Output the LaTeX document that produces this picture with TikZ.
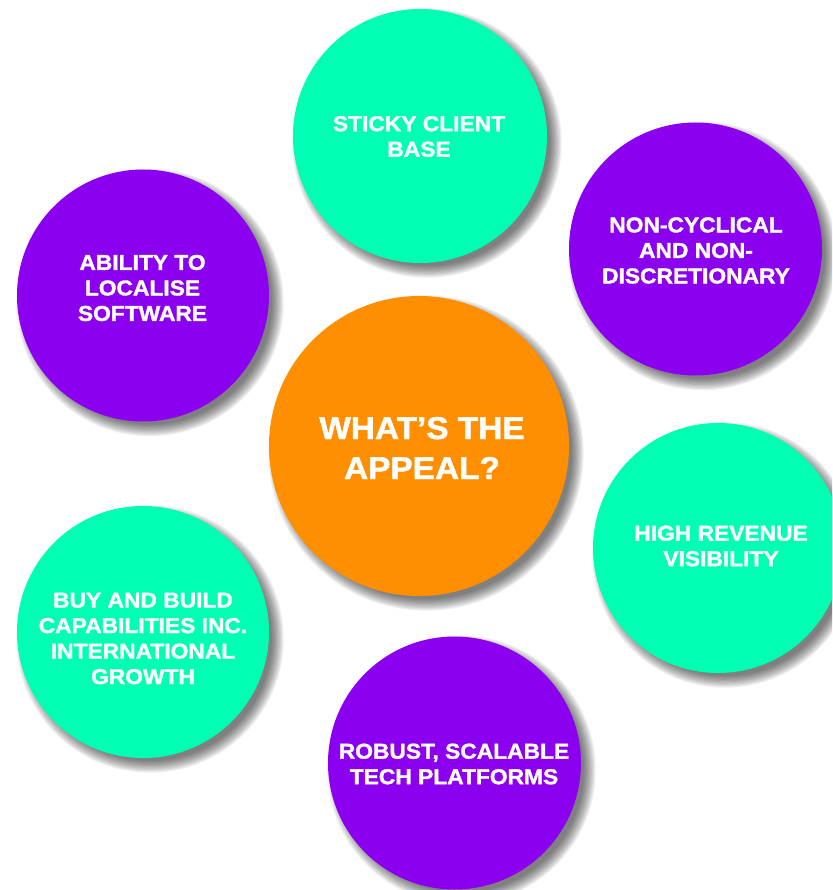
\documentclass[tikz,border=0pt]{standalone}
\usepackage{fontspec}
\setmainfont[FakeStretch=1.06,BoldFeatures={FakeBold=1.5}]{Liberation Sans}
\definecolor{bgreen}{RGB}{0,255,178}
\definecolor{bpurple}{RGB}{140,0,240}
\definecolor{borange}{RGB}{255,143,0}
\newcommand\bubshadow[3]{%
  \foreach \k in {0,...,9}{%
    \fill[black,opacity=0.068] (#1+7,#2+7) circle[radius={(#3-4+\k*1.3)*1pt}];}}
\tikzset{
  bubble/.style={circle,inner sep=0pt,fill=#1,draw=none},
  lbl/.style={text=white,font=\bfseries\fontsize{21.5}{25.5}\selectfont,align=center,inner sep=0pt},
  biglbl/.style={text=white,font=\bfseries\fontsize{31.5}{40}\selectfont,align=center,inner sep=0pt}
}
\begin{document}
\begin{tikzpicture}[x=1pt,y=-1pt]
\useasboundingbox (0,0) rectangle (832,890);
\clip (0,0) rectangle (832,890);
% shadows
\bubshadow{420}{136}{127}
\bubshadow{695.5}{249}{126.5}
\bubshadow{143}{295.5}{126}
\bubshadow{419}{446}{150}
\bubshadow{718}{548}{125}
\bubshadow{143}{632}{126}
\bubshadow{454.5}{763}{126.5}
% circles
\node[bubble=bgreen,minimum size=254pt] (sticky) at (420,136) {};
\node[bubble=bpurple,minimum size=253pt] (noncyc) at (695.5,249) {};
\node[bubble=bpurple,minimum size=252pt] (ability) at (143,295.5) {};
\node[bubble=borange,minimum size=300pt] (appeal) at (419,446) {};
\node[bubble=bgreen,minimum size=250pt] (high) at (718,548) {};
\node[bubble=bgreen,minimum size=252pt] (buy) at (143,632) {};
\node[bubble=bpurple,minimum size=253pt] (robust) at (454.5,763) {};
% labels
\node[lbl] (stickyT) at (419,136.5) {STICKY CLIENT\\BASE};
\node[lbl] (noncycT) at (696,250.5) {NON-CYCLICAL\\AND NON-\\DISCRETIONARY};
\node[lbl] (abilityT) at (142.5,288) {ABILITY TO\\LOCALISE\\SOFTWARE};
\node[biglbl] (appealT) at (422,448) {WHAT’S THE\\APPEAL?};
\node[lbl] (highT) at (721,546) {HIGH REVENUE\\VISIBILITY};
\node[lbl] (buyT) at (143,638.5) {BUY AND BUILD\\CAPABILITIES INC.\\INTERNATIONAL\\GROWTH};
\node[lbl] (robustT) at (454,764) {ROBUST, SCALABLE\\TECH PLATFORMS};
\end{tikzpicture}
\end{document}
